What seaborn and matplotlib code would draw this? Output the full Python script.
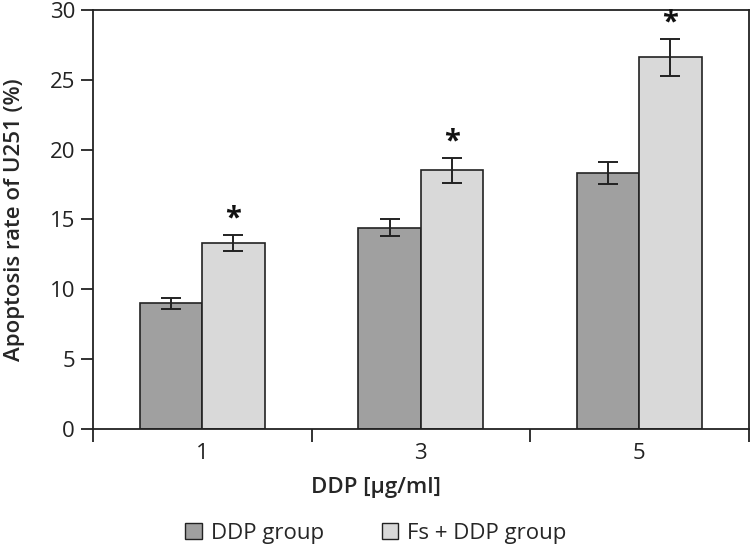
import numpy as np
import pandas as pd
import matplotlib
matplotlib.use("Agg")
import matplotlib.pyplot as plt
import seaborn as sns
from matplotlib.patches import Patch
from matplotlib.ticker import FixedLocator

sns.set_style('white')
plt.rcParams['font.family'] = ['Open Sans', 'DejaVu Sans']

# data
doses = ['1', '3', '5']
groups = ['DDP group', 'Fs + DDP group']
ddp_rate = [9.0, 14.4, 18.3]
ddp_err = [0.4, 0.6, 0.8]
fs_rate = [13.3, 18.5, 26.6]
fs_err = [0.6, 0.9, 1.3]
colors = ['#a0a0a0', '#d9d9d9']

df = pd.DataFrame({
    'dose': doses * 2,
    'rate': ddp_rate + fs_rate,
    'err': ddp_err + fs_err,
    'group': [groups[0]] * 3 + [groups[1]] * 3,
})

fig = plt.figure(figsize=(7.5, 5.49), dpi=100)
ax = fig.add_axes([0.124, 0.219, 0.874, 0.763])

sns.barplot(data=df, x='dose', y='rate', hue='group', order=doses,
            hue_order=groups, palette=colors, width=0.57, errorbar=None,
            edgecolor='#222222', linewidth=1.2, saturation=1, ax=ax)

# error bars + significance stars, positioned from the drawn bars
for gi, g in enumerate(groups):
    cont = ax.containers[gi]
    sub = df[df['group'] == g]
    for bar, (_, row) in zip(cont, sub.iterrows()):
        xc = bar.get_x() + bar.get_width() / 2
        ax.errorbar(xc, row['rate'], yerr=row['err'], fmt='none',
                    ecolor='#222222', elinewidth=1.4, capsize=7, capthick=1.4)
        if gi == 1:
            ax.text(xc, row['rate'] + row['err'] + 0.1, '*', ha='center',
                    va='bottom', fontsize=21, fontweight='bold', color='#111111')

if ax.get_legend() is not None:
    ax.get_legend().remove()

ax.set_ylim(0, 30)
ax.set_xlim(-0.5, 2.5)
ax.set_yticks(np.arange(0, 31, 5))
ax.xaxis.set_minor_locator(FixedLocator([-0.5, 0.5, 1.5, 2.5]))
ax.tick_params(axis='x', which='major', length=0, labelsize=16, pad=10,
               colors='#222222')
ax.tick_params(axis='x', which='minor', length=9, width=1.3, direction='out',
               color='#222222', bottom=True)
ax.tick_params(axis='y', length=9, width=1.3, direction='out', left=True,
               labelsize=16, pad=4, colors='#222222')
for s in ax.spines.values():
    s.set_color('#222222')
    s.set_linewidth(1.3)

ax.set_xlabel('DDP [µg/ml]', fontsize=16, fontweight='semibold')
ax.set_ylabel('Apoptosis rate of U251 (%)', fontsize=16, fontweight='semibold')
ax.xaxis.set_label_coords(0.431, -0.141)
ax.yaxis.set_label_coords(-0.119, 0.5)
ax.xaxis.label.set_va('center')
ax.yaxis.label.set_va('center')

handles = [Patch(facecolor=c, edgecolor='#222222', linewidth=1.0) for c in colors]
fig.legend(handles, groups, loc='center', bbox_to_anchor=(0.501, 0.029),
           ncol=2, frameon=False, fontsize=16, handlelength=0.75,
           handleheight=0.75, handletextpad=0.4, columnspacing=2.6)

fig.savefig('out.png', dpi=100)
